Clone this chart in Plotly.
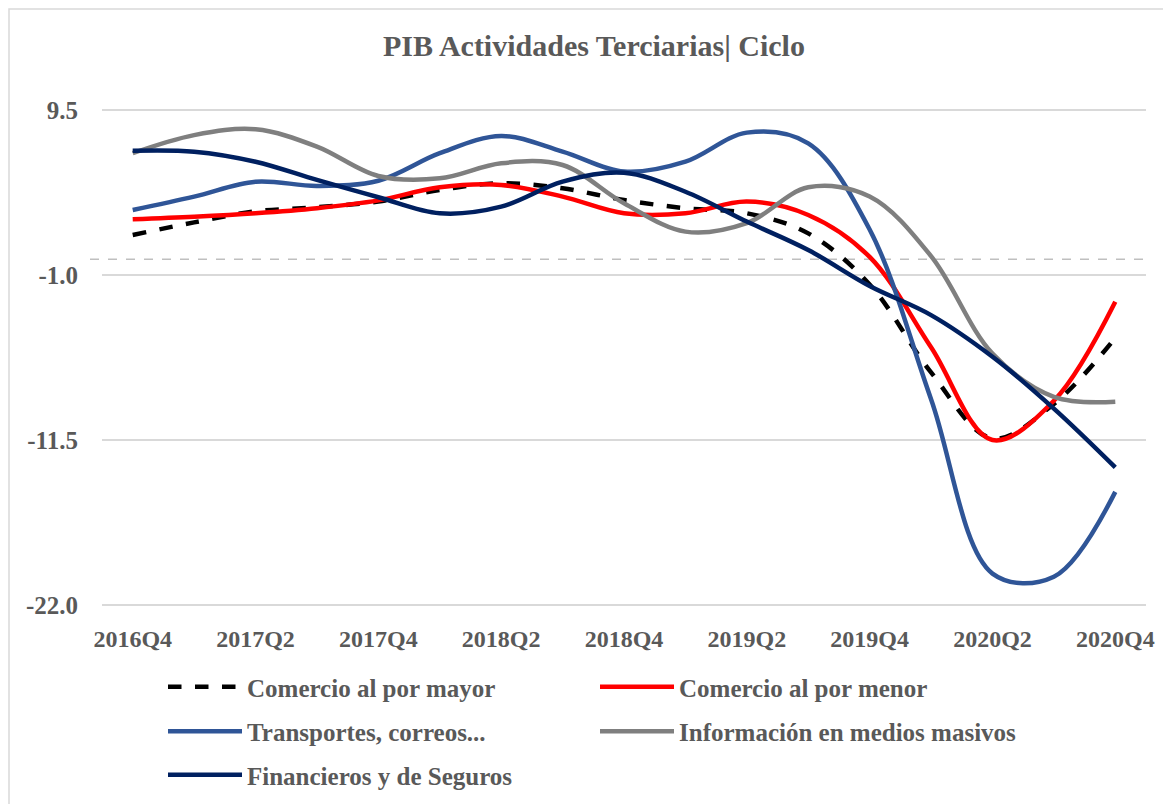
import plotly.graph_objects as go

quarters = ["2016Q4", "2017Q1", "2017Q2", "2017Q3", "2017Q4", "2018Q1", "2018Q2", "2018Q3",
            "2018Q4", "2019Q1", "2019Q2", "2019Q3", "2019Q4", "2020Q1", "2020Q2", "2020Q3", "2020Q4"]

comercio_mayor = [1.55, 2.35, 3.05, 3.31, 3.67, 4.41, 4.84, 4.52, 3.77, 3.25, 2.93, 1.65, -1.6, -7.2, -11.4, -9.2, -5.0]
comercio_menor = [2.55, 2.71, 2.93, 3.25, 3.75, 4.58, 4.73, 3.99, 2.93, 2.93, 3.67, 2.82, 0.15, -5.6, -11.5, -9.0, -2.7]
transportes = [3.14, 3.99, 4.94, 4.67, 5.0, 6.75, 7.85, 6.85, 5.58, 6.21, 8.06, 7.38, 1.9, -8.9, -20.0, -20.2, -14.8]
informacion = [6.75, 7.9, 8.27, 7.17, 5.3, 5.15, 6.11, 6.0, 3.56, 1.76, 2.3, 4.58, 4.0, 0.2, -6.0, -8.75, -9.06]
financieros = [6.91, 6.85, 6.21, 5.05, 3.95, 2.93, 3.35, 4.94, 5.51, 4.3, 2.4, 0.59, -1.7, -3.55, -6.2, -9.5, -13.24]

tick_labels = ["2016Q4", "2017Q2", "2017Q4", "2018Q2", "2018Q4", "2019Q2", "2019Q4", "2020Q2", "2020Q4"]
y_ticks = [9.5, -1.0, -11.5, -22.0]

FONT = "Liberation Serif"
GREY_TXT = "#595959"

series = [
    ("Comercio al por mayor", comercio_mayor, "#000000", "dash", "legend"),
    ("Comercio al por menor", comercio_menor, "#FF0000", "solid", "legend2"),
    ("Transportes, correos...", transportes, "#2F5597", "solid", "legend"),
    ("Información en medios masivos", informacion, "#7F7F7F", "solid", "legend2"),
    ("Financieros y de Seguros", financieros, "#002060", "solid", "legend3"),
]

OFF = 8
W, H = 1171, 804

# screen-pixel helpers (page body has an 8px offset)
PL, PR, PT, PB = 102, 1146, 95, 615
def px_x(sx):
    return (sx - PL) / (PR - PL)
def px_y(sy):
    return 1 - (sy - PT) / (PB - PT)
def cx(sx):
    return (sx - OFF) / W
def cy(sy):
    return 1 - (sy - OFF) / H

xidx = list(range(len(quarters)))
fig = go.Figure()
for i, (name, vals, color, dash, leg) in enumerate(series):
    fig.add_trace(go.Scatter(
        x=xidx, y=vals, name=f"<b>{name}</b>", mode="lines",
        line=dict(color=color, width=4.5, dash=dash, shape="spline", smoothing=1.0),
        legend=leg, legendgroup=f"g{i}",
    ))

tickvals = [quarters.index(t) for t in tick_labels]

legend_common = dict(
    orientation="v", font=dict(family=FONT, size=25, color=GREY_TXT),
    bgcolor="rgba(0,0,0,0)", itemwidth=74, tracegroupgap=9,
    traceorder="grouped", xanchor="left", yanchor="top",
)

ROW1 = 664
fig.update_layout(
    width=W, height=H,
    paper_bgcolor="white", plot_bgcolor="white",
    margin=dict(l=PL - OFF, r=W + OFF - PR, t=PT - OFF, b=H + OFF - PB),
    title=dict(text="<b>PIB Actividades Terciarias| Ciclo</b>", x=cx(594), xanchor="center",
               y=cy(45), yanchor="middle",
               font=dict(family=FONT, size=30, color=GREY_TXT)),
    xaxis=dict(range=[-0.5, 16.5], tickmode="array", tickvals=tickvals,
               ticktext=[f"<b>{t}</b>" for t in tick_labels],
               showgrid=False, zeroline=False, showline=False, ticks="",
               tickfont=dict(family=FONT, size=24, color=GREY_TXT), ticklabelstandoff=7),
    yaxis=dict(range=[-22.636, 10.455], tickmode="array", tickvals=y_ticks,
               ticktext=[f"<b>{v:.1f}</b>" for v in y_ticks],
               showgrid=True, gridcolor="#D9D9D9", gridwidth=1.5, zeroline=False, showline=False,
               ticks="", tickfont=dict(family=FONT, size=25, color=GREY_TXT), ticklabelstandoff=23),
    legend=dict(x=px_x(163), y=px_y(ROW1), **legend_common),
    legend2=dict(x=px_x(595), y=px_y(ROW1), **legend_common),
    legend3=dict(x=px_x(163), y=px_y(ROW1 + 88), **legend_common),
    showlegend=True,
)

# dashed zero reference line
fig.add_shape(type="line", xref="paper", yref="y", x0=px_x(90), x1=1, y0=0, y1=0,
              line=dict(color="#BFBFBF", width=1.5, dash="dash"), layer="below")

# chart frame
fig.add_shape(type="rect", xref="paper", yref="paper",
              x0=px_x(9), x1=px_x(1167), y0=px_y(815), y1=px_y(9),
              line=dict(color="#D9D9D9", width=1.5), fillcolor="rgba(0,0,0,0)", layer="above")

fig.write_html("out.html")
